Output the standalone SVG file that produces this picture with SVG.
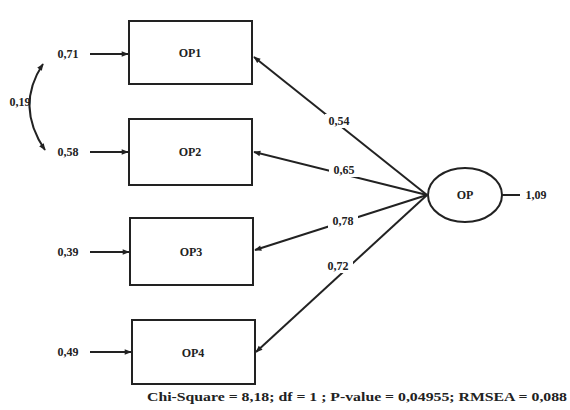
<svg xmlns="http://www.w3.org/2000/svg" width="570" height="410" viewBox="0 0 570 410">
<style>
.box{fill:#fff;stroke:#222;stroke-width:2}
.ln{stroke:#222;stroke-width:2;fill:none}
.t{font-family:"Liberation Serif",serif;font-weight:bold;font-size:12px;fill:#222}
.lbl{font-family:"Liberation Serif",serif;font-weight:bold;font-size:12px;fill:#222;text-anchor:middle}
</style>
<defs>
<marker id="ah" viewBox="0 0 10 10" refX="9" refY="5" markerWidth="8" markerHeight="7" orient="auto-start-reverse" markerUnits="userSpaceOnUse">
<path d="M0,1 L10,5 L0,9 Z" fill="#222"/>
</marker>
</defs>
<rect width="570" height="410" fill="#fff"/>
<g id="connectors">
<line class="ln" x1="90" y1="54" x2="128" y2="54" marker-end="url(#ah)"/>
<line class="ln" x1="90" y1="152" x2="128" y2="152" marker-end="url(#ah)"/>
<line class="ln" x1="90" y1="252" x2="129" y2="252" marker-end="url(#ah)"/>
<line class="ln" x1="90" y1="352" x2="131" y2="352" marker-end="url(#ah)"/>
<path class="ln" d="M43,64 Q15,106 45,150" marker-start="url(#ah)" marker-end="url(#ah)" stroke-width="1.8"/>
<line class="ln" x1="427" y1="195" x2="254" y2="57" marker-end="url(#ah)"/>
<line class="ln" x1="427" y1="195" x2="254" y2="152" marker-end="url(#ah)"/>
<line class="ln" x1="427" y1="195" x2="255" y2="250" marker-end="url(#ah)"/>
<line class="ln" x1="427" y1="195" x2="256" y2="352" marker-end="url(#ah)"/>
<line class="ln" x1="502" y1="195" x2="520" y2="195" stroke-width="1.5"/>
<rect x="325" y="114" width="28" height="14" fill="#fff"/>
<rect x="329" y="163" width="30" height="14" fill="#fff"/>
<rect x="328" y="214" width="30" height="14" fill="#fff"/>
<rect x="324" y="259" width="29" height="14" fill="#fff"/>
</g>
<g id="OP1"><rect class="box" x="129" y="21" width="123" height="63"/><text class="lbl" x="190" y="57">OP1</text></g>
<g id="OP2"><rect class="box" x="129" y="119" width="123" height="66"/><text class="lbl" x="190" y="156">OP2</text></g>
<g id="OP3"><rect class="box" x="130" y="218" width="123" height="67"/><text class="lbl" x="191" y="256">OP3</text></g>
<g id="OP4"><rect class="box" x="132" y="320" width="123" height="64"/><text class="lbl" x="193" y="357">OP4</text></g>
<g id="OP"><ellipse cx="465" cy="195" rx="37" ry="27" fill="#fff" stroke="#222" stroke-width="2"/><text class="lbl" x="465" y="199">OP</text></g>
<g id="labels">
<text class="lbl" x="68" y="58">0,71</text>
<text class="lbl" x="68" y="156">0,58</text>
<text class="lbl" x="68" y="256">0,39</text>
<text class="lbl" x="68" y="356">0,49</text>
<text class="lbl" x="20" y="106">0,19</text>
<text class="lbl" x="339" y="125">0,54</text>
<text class="lbl" x="344" y="174">0,65</text>
<text class="lbl" x="343" y="225">0,78</text>
<text class="lbl" x="338" y="270">0,72</text>
<text class="lbl" x="536" y="199">1,09</text>
<text class="t" x="147" y="401" textLength="420" lengthAdjust="spacingAndGlyphs">Chi-Square = 8,18; df = 1 ; P-value = 0,04955; RMSEA = 0,088</text>
</g>
</svg>
